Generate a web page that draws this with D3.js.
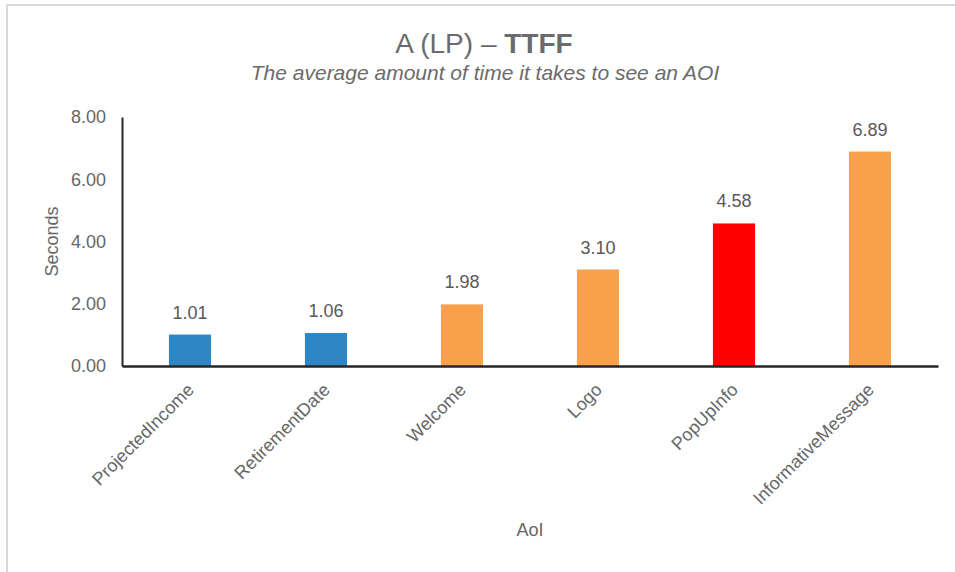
<!DOCTYPE html>
<html>
<head>
<meta charset="utf-8">
<script src="https://cdn.jsdelivr.net/npm/d3@7"></script>
<style>
  html, body { margin: 0; padding: 0; background: #fff; }
  svg { display: block; font-family: "Liberation Sans", Arial, sans-serif; }
</style>
</head>
<body>
<svg id="chart" width="955" height="572"></svg>
<script>
// AOI categories and their average time to first fixation (seconds)
const categories = ["ProjectedIncome", "RetirementDate", "Welcome", "Logo", "PopUpInfo", "InformativeMessage"];
const values = [1.01, 1.06, 1.98, 3.10, 4.58, 6.89];
const barColors = ["#2E86C5", "#2E86C5", "#F8A04A", "#F8A04A", "#FF0000", "#F8A04A"];
const yTicks = [0, 2, 4, 6, 8];

const svg = d3.select("#chart");
const W = 955, H = 572;
const margin = { left: 122, right: 17, top: 117, bottom: 206 };
const plotW = W - margin.left - margin.right;
const plotH = H - margin.top - margin.bottom;
const textColor = "#666666";
const fontFamily = "Liberation Sans, Arial, sans-serif";

// outer frame (left and top edges)
svg.append("path")
  .attr("d", `M7,${H} L7,5 L${W},5`)
  .attr("fill", "none")
  .attr("stroke", "#d9d9d9")
  .attr("stroke-width", 2);

// title
const title = svg.append("text")
  .attr("x", 484).attr("y", 53)
  .attr("text-anchor", "middle")
  .attr("font-size", 28)
  .attr("fill", "#6b6b6b");
title.append("tspan").text("A (LP) \u2013 ");
title.append("tspan").attr("font-weight", "bold").text("TTFF");

svg.append("text")
  .attr("x", 485).attr("y", 80)
  .attr("text-anchor", "middle")
  .attr("font-size", 21)
  .attr("font-style", "italic")
  .attr("fill", "#6b6b6b")
  .text("The average amount of time it takes to see an AOI");

const g = svg.append("g").attr("transform", `translate(${margin.left},${margin.top})`);

const x = d3.scaleBand().domain(categories).range([0, plotW]).paddingInner(0.69).paddingOuter(0.345);
const y = d3.scaleLinear().domain([0, 8]).range([plotH, 0]);

// bars
g.selectAll("rect.bar")
  .data(values)
  .join("rect")
  .attr("class", "bar")
  .attr("x", (d, i) => x(categories[i]))
  .attr("y", d => y(d))
  .attr("width", x.bandwidth())
  .attr("height", d => plotH - y(d))
  .attr("fill", (d, i) => barColors[i]);

// value labels
g.selectAll("text.val")
  .data(values)
  .join("text")
  .attr("class", "val")
  .attr("x", (d, i) => x(categories[i]) + x.bandwidth() / 2)
  .attr("y", d => y(d) - 16)
  .attr("text-anchor", "middle")
  .attr("font-size", 18)
  .attr("fill", "#595959")
  .text(d => d.toFixed(2));

// y axis
const yAxis = g.append("g")
  .call(d3.axisLeft(y).tickValues(yTicks).tickFormat(d3.format(".2f")).tickSize(0).tickPadding(16));
yAxis.select(".domain").attr("stroke", "#262626").attr("stroke-width", 2);
yAxis.selectAll("text").attr("font-size", 18).attr("fill", textColor).attr("font-family", fontFamily);

// x axis
const xAxis = g.append("g")
  .attr("transform", `translate(0,${plotH})`)
  .call(d3.axisBottom(x).tickSize(0).tickPadding(0));
xAxis.select(".domain").attr("stroke", "#262626").attr("stroke-width", 2.5);
xAxis.selectAll("text")
  .attr("font-size", 18)
  .attr("fill", textColor)
  .attr("font-family", fontFamily)
  .attr("text-anchor", "end")
  .attr("dy", 0)
  .attr("y", 0)
  .attr("transform", "translate(5,25) rotate(-45)");

// axis titles
svg.append("text")
  .attr("transform", `translate(58,${margin.top + plotH / 2}) rotate(-90)`)
  .attr("text-anchor", "middle")
  .attr("font-size", 18)
  .attr("fill", textColor)
  .text("Seconds");

svg.append("text")
  .attr("x", margin.left + plotW / 2)
  .attr("y", 536)
  .attr("text-anchor", "middle")
  .attr("font-size", 18)
  .attr("fill", textColor)
  .text("AoI");
</script>
</body>
</html>
